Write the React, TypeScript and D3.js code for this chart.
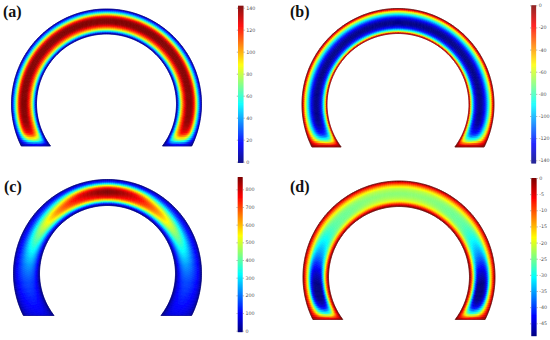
import React, { useEffect, useRef } from "react";
import * as d3 from "d3";

// stations through the wall (0 = outer edge, 1 = inner edge) and along the arch (0 = crown, 1 = foot)
const wallStations = [0, 0.06, 0.12, 0.2, 0.3, 0.4, 0.5, 0.6, 0.7, 0.8, 0.88, 0.94, 1];
const archStations = [0, 0.15, 0.3, 0.45, 0.6, 0.75, 0.86, 0.92, 0.96, 0.985, 1];

// values, one row per arch station
const fieldA = [
  [0, 22, 44, 78, 122, 143, 146, 143, 125, 98, 62, 32, 0],
  [0, 22, 44, 78, 122, 143, 146, 143, 125, 98, 62, 32, 0],
  [0, 22, 44, 78, 122, 143, 146, 143, 125, 98, 62, 32, 0],
  [0, 22, 44, 78, 122, 143, 145, 143, 125, 98, 62, 32, 0],
  [0, 22, 44, 78, 122, 143, 145, 143, 125, 98, 62, 32, 0],
  [0, 22, 44, 78, 122, 143, 145, 143, 125, 98, 62, 32, 0],
  [0, 22, 44, 78, 120, 140, 143, 140, 122, 98, 60, 30, 0],
  [0, 20, 40, 70, 108, 125, 128, 125, 110, 88, 54, 28, 0],
  [0, 16, 30, 50, 70, 82, 84, 82, 74, 58, 40, 20, 0],
  [0, 8, 14, 22, 30, 34, 36, 34, 32, 26, 18, 10, 0],
  [0, 4, 6, 8, 10, 12, 12, 12, 10, 8, 6, 4, 0],
];
const fieldB = [
  [0, -20, -50, -78, -108, -130, -142, -145, -138, -118, -85, -52, 0],
  [0, -20, -50, -78, -108, -130, -142, -145, -138, -118, -85, -52, 0],
  [0, -20, -50, -78, -108, -130, -142, -145, -138, -118, -85, -52, 0],
  [0, -20, -50, -78, -108, -130, -142, -145, -138, -118, -85, -52, 0],
  [0, -20, -50, -78, -108, -130, -142, -145, -138, -118, -85, -52, 0],
  [0, -20, -50, -78, -108, -130, -142, -145, -138, -118, -85, -52, 0],
  [0, -20, -48, -76, -105, -128, -140, -142, -135, -115, -82, -50, 0],
  [0, -18, -42, -66, -92, -112, -122, -122, -116, -98, -70, -44, 0],
  [0, -14, -30, -48, -64, -74, -78, -78, -74, -62, -46, -28, 0],
  [0, -7, -13, -19, -24, -26, -27, -27, -26, -22, -17, -11, 0],
  [0, -2, -3, -4, -4, -4, -4, -4, -4, -4, -3, -2, 0],
];
const fieldC = [
  [0, 90, 190, 400, 690, 840, 870, 840, 760, 560, 310, 130, 0],
  [0, 80, 165, 360, 600, 760, 800, 770, 700, 520, 290, 125, 0],
  [0, 70, 130, 240, 400, 540, 640, 660, 600, 440, 240, 110, 0],
  [0, 65, 110, 175, 280, 390, 470, 490, 450, 330, 195, 100, 0],
  [0, 60, 100, 145, 215, 280, 320, 330, 300, 230, 150, 85, 0],
  [0, 50, 95, 130, 160, 185, 195, 195, 180, 150, 105, 60, 0],
  [0, 45, 80, 105, 125, 140, 148, 148, 138, 115, 85, 50, 0],
  [0, 42, 72, 92, 108, 118, 122, 122, 115, 98, 72, 45, 0],
  [0, 40, 65, 82, 95, 102, 106, 106, 100, 86, 64, 40, 0],
  [0, 36, 58, 72, 84, 90, 94, 94, 88, 76, 56, 36, 0],
  [0, 32, 50, 62, 72, 78, 80, 80, 76, 66, 48, 30, 0],
];
const fieldD = [
  [0, -5, -10, -16, -21, -23, -24, -23.5, -22, -19, -11.5, -5, 0],
  [0, -5, -10, -16, -21, -23, -24, -23.5, -22, -19, -12, -5, 0],
  [0, -5, -10, -16, -21, -24, -25, -25, -24, -20, -14, -7, 0],
  [0, -5, -11, -17, -23, -26, -27, -27, -26, -22, -14, -7, 0],
  [0, -5, -11, -18, -28, -33, -35, -35, -33, -26, -16, -7, 0],
  [0, -5, -12, -21, -37, -45, -47, -47, -45, -32, -17, -8, 0],
  [0, -5, -12, -22, -39, -47, -49, -49, -47, -33, -18, -8, 0],
  [0, -5, -11, -20, -33, -41, -44, -44, -40, -29, -16, -7, 0],
  [0, -4, -9, -15, -23, -28, -30, -30, -27, -20, -12, -6, 0],
  [0, -3, -5, -8, -11, -13, -14, -14, -13, -10, -7, -4, 0],
  [0, -1, -1, -2, -2, -2, -2, -2, -2, -2, -1, -1, 0],
];

const ticksA = [0, 20, 40, 60, 80, 100, 120, 140];
const ticksB = [0, -20, -40, -60, -80, -100, -120, -140];
const ticksC = [0, 100, 200, 300, 400, 500, 600, 700, 800];
const ticksD = [0, -5, -10, -15, -20, -25, -30, -35, -40, -45];

const jetStops = [0, 0.125, 0.375, 0.625, 0.875, 1];
const jetColors = ["#00007f", "#0000ff", "#00ffff", "#ffff00", "#ff0000", "#7f0000"];

const panels = [
  {
    label: "(a)", labelX: 3, labelY: 17, field: fieldA, domain: [0, 146], ticks: ticksA, rim: "#00006a",
    cx: 106.5, cy: 104, rOuter: 95, rInner: 70, bottom: 146,
    bar: { x: 238, w: 5.5, top: 5.7, bottom: 162.3, topPx: 7.7, topVal: 140, zeroPx: 161.7 },
  },
  {
    label: "(b)", labelX: 290, labelY: 17, field: fieldB, domain: [-146, 0], ticks: ticksB, rim: "#3a2020",
    cx: 398, cy: 104.5, rOuter: 96, rInner: 71, bottom: 147,
    bar: { x: 531.3, w: 4.8, top: 5.3, bottom: 163.3, topPx: 160.3, topVal: -140, zeroPx: 5.3 },
  },
  {
    label: "(c)", labelX: 4, labelY: 191.5, field: fieldC, domain: [0, 870], ticks: ticksC, rim: "#00006a",
    cx: 107.5, cy: 273.5, rOuter: 94, rInner: 68, bottom: 315.5,
    bar: { x: 237.7, w: 5, top: 177, bottom: 331.7, topPx: 189.3, topVal: 800, zeroPx: 330.7 },
  },
  {
    label: "(d)", labelX: 290, labelY: 191.5, field: fieldD, domain: [-49, 0], ticks: ticksD, rim: "#3a2020",
    cx: 399, cy: 277, rOuter: 96, rInner: 70.5, bottom: 319.5,
    bar: { x: 531.3, w: 5.3, top: 178, bottom: 335.7, topPx: 323.3, topVal: -45, zeroPx: 178 },
  },
];

// catmull-rom between neighbouring table entries, only to shade the field smoothly
const smooth = (row: number[], pos: number) => {
  const i = Math.min(Math.floor(pos), row.length - 2);
  const f = pos - i;
  const p0 = row[Math.max(i - 1, 0)];
  const p1 = row[i];
  const p2 = row[i + 1];
  const p3 = row[Math.min(i + 2, row.length - 1)];
  return (
    0.5 *
    (2 * p1 +
      (p2 - p0) * f +
      (2 * p0 - 5 * p1 + 4 * p2 - p3) * f * f +
      (3 * p1 - p0 - 3 * p2 + p3) * f * f * f)
  );
};

const App = () => {
  const svgRef = useRef<SVGSVGElement>(null);

  useEffect(() => {
    const svg = d3.select(svgRef.current);
    svg.selectAll("*").remove();

    const defs = svg.append("defs");
    defs.append("filter").attr("id", "soft")
      .append("feGaussianBlur").attr("stdDeviation", 0.4);

    const archPos = d3.scaleLinear().domain(archStations).range(d3.range(archStations.length));
    const wallPos = d3.scaleLinear().domain(wallStations).range(d3.range(wallStations.length));
    const line = d3.line().curve(d3.curveLinearClosed);

    const nArch = 90;
    const nWall = 26;

    panels.forEach((p) => {
      const color = d3
        .scaleLinear<string>()
        .domain(jetStops.map((s) => p.domain[0] + s * (p.domain[1] - p.domain[0])))
        .range(jetColors)
        .clamp(true);

      const point = (u: number, t: number, side: number): [number, number] => {
        const r = p.rOuter + t * (p.rInner - p.rOuter);
        const theta = u * (Math.PI / 2 + Math.asin((p.bottom - p.cy) / r));
        return [p.cx + side * r * Math.sin(theta), p.cy - r * Math.cos(theta)];
      };
      const valueAt = (u: number, t: number) => {
        const a = archPos(u);
        const w = wallPos(t);
        const across = p.field[0].map((_, c) => smooth(p.field.map((row) => row[c]), a));
        return smooth(across, w);
      };

      const cells: { d: string; fill: string }[] = [];
      for (const side of [-1, 1]) {
        for (let i = 0; i < nArch; i++) {
          for (let j = 0; j < nWall; j++) {
            const u0 = i / nArch;
            const u1 = (i + 1) / nArch;
            const t0 = j / nWall;
            const t1 = (j + 1) / nWall;
            cells.push({
              d: line([point(u0, t0, side), point(u1, t0, side), point(u1, t1, side), point(u0, t1, side)])!,
              fill: color(valueAt((u0 + u1) / 2, (t0 + t1) / 2)),
            });
          }
        }
      }

      const g = svg.append("g").attr("filter", "url(#soft)");
      g.selectAll("path.cell")
        .data(cells)
        .join("path")
        .attr("class", "cell")
        .attr("d", (c) => c.d)
        .attr("fill", (c) => c.fill)
        .attr("stroke", (c) => c.fill)
        .attr("stroke-width", 0.6);

      // outline of the arch
      const rim = d3.range(0, 121).map((k) => point(Math.abs(k / 60 - 1), 0, k < 60 ? -1 : 1));
      const rimInner = d3.range(120, -1, -1).map((k) => point(Math.abs(k / 60 - 1), 1, k < 60 ? -1 : 1));
      g.append("path")
        .attr("d", line([...rim, ...rimInner]))
        .attr("fill", "none")
        .attr("stroke", p.rim)
        .attr("stroke-width", 0.4);

      // colour bar, tick labels stay out of the blur so they can still be read
      const { bar } = p;
      const perUnit = (bar.topPx - bar.zeroPx) / bar.topVal;
      const yFull = d3
        .scaleLinear()
        .domain([(bar.top - bar.zeroPx) / perUnit, (bar.bottom - bar.zeroPx) / perUnit])
        .range([bar.top, bar.bottom]);
      const barColor = d3
        .scaleLinear<string>()
        .domain(jetStops.map((s) => bar.bottom + s * (bar.top - bar.bottom)))
        .range(jetColors);
      svg.append("g").attr("filter", "url(#soft)")
        .selectAll("rect")
        .data(d3.range(bar.top, bar.bottom, 1))
        .join("rect")
        .attr("x", bar.x)
        .attr("y", (d) => d)
        .attr("width", bar.w)
        .attr("height", 1.2)
        .attr("fill", (d) => barColor(d));

      const right = svg
        .append("g")
        .attr("transform", `translate(${bar.x + bar.w},0)`)
        .call(d3.axisRight(yFull).tickValues(p.ticks).tickSize(1.2).tickPadding(1.5).tickFormat((d) => String(d)));
      right.select(".domain").remove();
      right.selectAll("text").attr("font-family", "DejaVu Sans").attr("font-size", 4.8).attr("fill", "#555");
      right.selectAll("line").attr("stroke", "#666").attr("stroke-width", 0.5);

      const left = svg
        .append("g")
        .attr("transform", `translate(${bar.x},0)`)
        .call(d3.axisLeft(yFull).tickValues(p.ticks).tickSize(1.2).tickFormat(() => ""));
      left.select(".domain").remove();
      left.selectAll("line").attr("stroke", "#666").attr("stroke-width", 0.5);

      svg.append("text")
        .attr("x", p.labelX)
        .attr("y", p.labelY)
        .attr("font-family", "Liberation Serif")
        .attr("font-weight", "bold")
        .attr("font-size", 16)
        .attr("fill", "#111")
        .text(p.label);
    });
  }, []);

  return (
    <svg
      ref={svgRef}
      width={550}
      height={340}
      style={{ position: "absolute", left: 0, top: 0, background: "#fff" }}
    />
  );
};

export default App;
